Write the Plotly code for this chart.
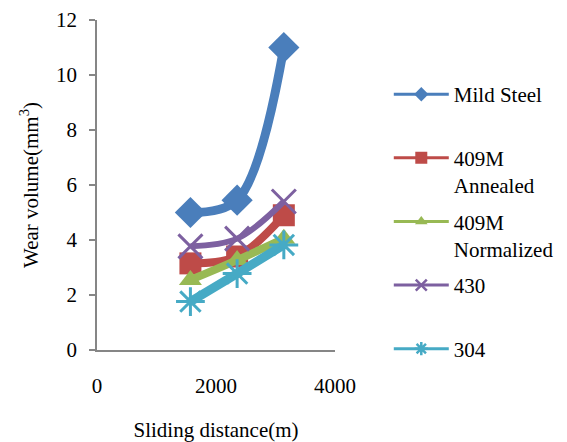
import plotly.graph_objects as go

# Sliding distance (m) and wear volume (mm^3) for each material
distance = [1570, 2355, 3140]
mild_steel = [5.0, 5.45, 11.0]
m409_annealed = [3.15, 3.4, 4.9]
m409_normalized = [2.55, 3.27, 4.05]
ss430 = [3.77, 4.05, 5.4]
ss304 = [1.76, 2.78, 3.82]

series_names = ["Mild Steel", "409M<br>Annealed", "409M<br>Normalized", "430", "304"]
series_values = [mild_steel, m409_annealed, m409_normalized, ss430, ss304]
colors = ["#4A7EBB", "#BE4B48", "#98B954", "#7D60A0", "#46AAC5"]
symbols = ["diamond", "square", "triangle-up", "x-thin", "asterisk"]
plot_marker_size = [24, 22, 20, 24, 24]
legend_marker_size = [11, 12, 11, 11, 11]
line_widths = [9, 8, 8, 6, 9]

FONT = "Liberation Serif, Times New Roman, serif"
FS = 21

fig = go.Figure()

for name, vals, c, sym, ms, lw in zip(series_names, series_values, colors,
                                       symbols, plot_marker_size, line_widths):
    open_sym = sym in ("x-thin", "asterisk")
    fig.add_trace(go.Scatter(
        x=distance, y=vals, mode="lines+markers",
        line=dict(color=c, width=lw, shape="spline", smoothing=1.0),
        marker=dict(symbol=sym, size=ms, color=c,
                    line=dict(color=c, width=3 if open_sym else 0)),
        showlegend=False, cliponaxis=False,
    ))

# Legend entries with thin lines and small markers
for i, (name, c, sym, ms) in enumerate(zip(series_names, colors, symbols,
                                           legend_marker_size)):
    open_sym = sym in ("x-thin", "asterisk")
    label = name if "<br>" in name else name + "<br>\u00a0"
    fig.add_trace(go.Scatter(
        x=[None], y=[None], mode="lines+markers", name=label,
        line=dict(color=c, width=3),
        marker=dict(symbol=sym, size=ms, color=c,
                    line=dict(color=c, width=2.5 if open_sym else 0)),
        legendgroup=f"g{i}",
    ))

axis_color = "#868686"

fig.update_layout(
    width=567, height=442,
    margin=dict(l=97, r=232, t=20, b=92, autoexpand=False),
    paper_bgcolor="white", plot_bgcolor="white",
    font=dict(family=FONT, size=FS, color="black"),
    showlegend=True,
    legend=dict(
        x=1.226, y=0.836, xanchor="left", yanchor="top",
        valign="top", tracegroupgap=6, itemwidth=55, maxheight=440,
        font=dict(family=FONT, size=FS, color="black"),
        bgcolor="rgba(0,0,0,0)",
    ),
    xaxis=dict(
        range=[0, 4000], tickvals=[0, 2000, 4000],
        showgrid=False, zeroline=False,
        showline=True, linecolor=axis_color, linewidth=1.5,
        ticks="", ticklabelstandoff=16, automargin=False,
        title=dict(text="Sliding distance(m)", standoff=29,
                   font=dict(family=FONT, size=FS)),
    ),
    yaxis=dict(
        range=[0, 12], tickvals=[0, 2, 4, 6, 8, 10, 12],
        showgrid=False, zeroline=False,
        showline=True, linecolor=axis_color, linewidth=1.5,
        ticks="outside", ticklen=6, tickcolor=axis_color, tickwidth=1.5,
        ticklabelstandoff=8, automargin=False,
        title=dict(text="Wear volume(mm<sup>3</sup>)", standoff=12,
                   font=dict(family=FONT, size=FS)),
    ),
)

fig.write_html("out.html")
